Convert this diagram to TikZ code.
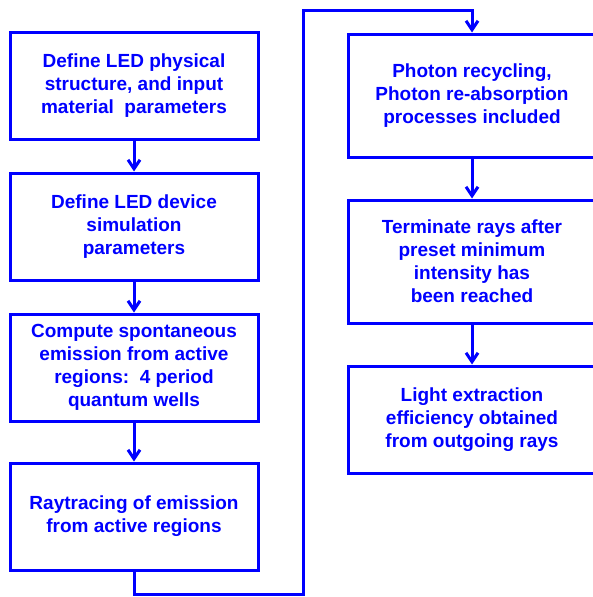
\documentclass[tikz,border=0pt]{standalone}
\usepackage{fontspec}
\setsansfont{Liberation Sans}
\usetikzlibrary{arrows.meta}
\definecolor{ledblue}{HTML}{0000FF}

\begin{document}
\begin{tikzpicture}[x=1pt,y=-1pt,line width=3pt,draw=ledblue,
  >={Straight Barb[length=9pt,width=12pt,line width=3pt]},
  box/.style={draw=ledblue,rectangle,minimum width=248pt,align=center,text=ledblue,
    font=\sffamily\bfseries\fontsize{19}{23}\selectfont,inner sep=0pt},
  flow/.style={ledblue,->,line width=3pt}]
  \clip (0,0) rectangle (593,597);
  % left column
  \node[box,minimum height=107pt] (def) at (134,85.5)
    {Define LED physical\\structure, and input\\material\ \ parameters};
  \node[box,minimum height=107pt] (sim) at (134,226.5)
    {Define LED device\\simulation\\parameters};
  \node[box,minimum height=107pt] (spont) at (134,367.5)
    {Compute spontaneous\\emission from active\\regions:\ \ 4 period\\quantum wells};
  \node[box,minimum height=107pt] (ray) at (134,516.5)
    {Raytracing of emission\\from active regions};
  % right column
  \node[box,minimum height=123pt] (recyc) at (472,95.5)
    {Photon recycling,\\Photon re-absorption\\processes included};
  \node[box,minimum height=123pt] (term) at (472,261.5)
    {Terminate rays after\\preset minimum\\intensity has\\been reached};
  \node[box,minimum height=107pt] (extr) at (472,419.5)
    {Light extraction\\efficiency obtained\\from outgoing rays};
  \draw[flow] (def) -- (sim);
  \draw[flow] (sim) -- (spont);
  \draw[flow] (spont) -- (ray);
  \coordinate (turn) at (303,10);
  \draw[flow] (ray.south) -- ++(0,23) -| (turn) -| (recyc.north);
  \draw[flow] (recyc) -- (term);
  \draw[flow] (term) -- (extr);
\end{tikzpicture}
\end{document}
